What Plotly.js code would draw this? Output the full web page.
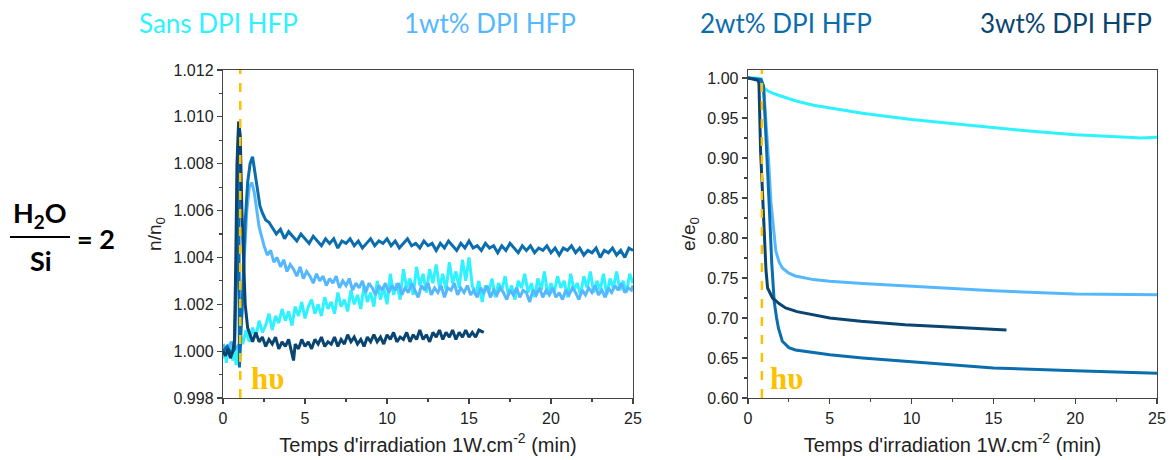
<!DOCTYPE html>
<html>
<head>
<meta charset="utf-8">
<script src="https://cdn.plot.ly/plotly-3.0.1.min.js"></script>
<style>html,body{margin:0;padding:0;background:#fff;}#chart{width:1172px;height:460px;}</style>
</head>
<body>
<div id="chart"></div>
<script>
// ---- series names & colours ----
const seriesNames = ["Sans DPI HFP", "1wt% DPI HFP", "2wt% DPI HFP", "3wt% DPI HFP"];
const seriesColors = ["#2EF2FF", "#55B8FF", "#0A6DAE", "#0A4470"];

// ---- left panel: n/n0 vs time (min), [t, value] ----
const sansN = [[0,0.9997],[0.1,1.0002],[0.2,0.9995],[0.3,1.0003],[0.4,0.9999],[0.5,1.0004],[0.6,0.9996],[0.7,1.0001],[0.8,0.9994],[0.9,1.0002],[1.0,0.9998],[1.1,1.0006],[1.2,1.0003],
[1.4,1.0009],[1.6,1.0004],[1.8,1.0010],[2.0,1.0006],[2.2,1.0013],[2.4,1.0008],[2.6,1.0011],[2.8,1.0016],[3.0,1.0009],[3.2,1.0015],[3.4,1.0012],[3.6,1.0018],[3.8,1.0013],[4.0,1.0017],[4.2,1.0011],[4.4,1.0019],[4.6,1.0015],[4.8,1.0021],[5.0,1.0014],[5.2,1.0019],[5.4,1.0022],[5.6,1.0016],[5.8,1.0020],[6.0,1.0015],[6.2,1.0023],[6.4,1.0018],[6.6,1.0021],[6.8,1.0016],[7.0,1.0025],[7.2,1.0019],[7.4,1.0022],[7.6,1.0017],[7.8,1.0026],[8.0,1.0020],[8.2,1.0024],[8.4,1.0018],[8.6,1.0028],[8.8,1.0021],[9.0,1.0025],[9.2,1.0019],[9.4,1.0030],[9.6,1.0022],[9.8,1.0027],[10.0,1.0020],[10.2,1.0033],[10.4,1.0024],[10.6,1.0029],[10.8,1.0022],[11.0,1.0035],[11.2,1.0027],[11.4,1.0031],[11.6,1.0024],[11.8,1.0036],[12.0,1.0028],[12.2,1.0033],[12.4,1.0025],[12.6,1.0035],[12.8,1.0029],[13.0,1.0037],[13.2,1.0027],[13.4,1.0033],[13.6,1.0026],[13.8,1.0038],[14.0,1.0029],[14.2,1.0034],[14.4,1.0027],[14.6,1.0039],[14.8,1.0030],[15.0,1.0040],[15.2,1.0028],[15.4,1.0024],[15.6,1.0030],[15.8,1.0021],[16.0,1.0028],[16.2,1.0025],[16.4,1.0031],[16.6,1.0023],[16.8,1.0029],[17.0,1.0026],[17.2,1.0032],[17.4,1.0024],[17.6,1.0028],[17.8,1.0022],[18.0,1.0030],[18.2,1.0027],[18.4,1.0033],[18.6,1.0025],[18.8,1.0029],[19.0,1.0023],[19.2,1.0031],[19.4,1.0026],[19.6,1.0034],[19.8,1.0024],[20.0,1.0029],[20.2,1.0025],[20.4,1.0032],[20.6,1.0027],[20.8,1.0030],[21.0,1.0023],[21.2,1.0033],[21.4,1.0026],[21.6,1.0029],[21.8,1.0024],[22.0,1.0032],[22.2,1.0027],[22.4,1.0034],[22.6,1.0025],[22.8,1.0030],[23.0,1.0026],[23.2,1.0033],[23.4,1.0024],[23.6,1.0031],[23.8,1.0027],[24.0,1.0034],[24.2,1.0026],[24.4,1.0030],[24.6,1.0025],[24.8,1.0033],[25.0,1.0029]];
const wt1N = [[0,1.0003],[0.25,1.0000],[0.5,1.0004],[0.75,1.0001],[1,1.0003],[1.15,1.0015],[1.3,1.0040],[1.45,1.0060],[1.6,1.0070],[1.75,1.0072],[1.9,1.0068],[2.05,1.0060],[2.2,1.0053],[2.35,1.0049],
[2.5,1.0045],[2.7,1.0041],[2.9,1.0043],[3.1,1.0038],[3.3,1.0040],[3.5,1.0036],[3.7,1.0039],[3.9,1.0034],[4.1,1.0037],[4.3,1.0035],[4.5,1.0032],[4.7,1.0036],[4.9,1.0031],[5.1,1.0034],[5.3,1.0032],[5.5,1.0029],[5.7,1.0033],[5.9,1.0030],[6.1,1.0032],[6.3,1.0028],[6.5,1.0031],[6.7,1.0029],[6.9,1.0032],[7.1,1.0027],[7.3,1.0030],[7.5,1.0028],[7.7,1.0031],[7.9,1.0026],[8.1,1.0029],[8.3,1.0027],[8.5,1.0030],[8.7,1.0025],[8.9,1.0029],[9.1,1.0027],[9.3,1.0024],[9.5,1.0028],[9.7,1.0026],[9.9,1.0029],[10.1,1.0025],[10.3,1.0028],[10.5,1.0026],[10.7,1.0029],[10.9,1.0024],[11.1,1.0027],[11.3,1.0025],[11.5,1.0029],[11.7,1.0026],[11.9,1.0023],[12.1,1.0028],[12.3,1.0026],[12.5,1.0029],[12.7,1.0024],[12.9,1.0027],[13.1,1.0025],[13.3,1.0028],[13.5,1.0023],[13.7,1.0027],[13.9,1.0026],[14.1,1.0029],[14.3,1.0024],[14.5,1.0027],[14.7,1.0025],[14.9,1.0028],[15.1,1.0024],[15.3,1.0026],[15.5,1.0023],[15.7,1.0027],[15.9,1.0025],[16.1,1.0028],[16.3,1.0023],[16.5,1.0026],[16.7,1.0024],[16.9,1.0027],[17.1,1.0025],[17.3,1.0022],[17.5,1.0026],[17.7,1.0024],[17.9,1.0027],[18.1,1.0023],[18.3,1.0026],[18.5,1.0025],[18.7,1.0021],[18.9,1.0026],[19.1,1.0024],[19.3,1.0027],[19.5,1.0023],[19.7,1.0026],[19.9,1.0024],[20.1,1.0027],[20.3,1.0023],[20.5,1.0025],[20.7,1.0022],[20.9,1.0026],[21.1,1.0024],[21.3,1.0027],[21.5,1.0025],[21.7,1.0022],[21.9,1.0026],[22.1,1.0024],[22.3,1.0027],[22.5,1.0025],[22.7,1.0028],[22.9,1.0024],[23.1,1.0026],[23.3,1.0023],[23.5,1.0027],[23.7,1.0025],[23.9,1.0028],[24.1,1.0026],[24.3,1.0029],[24.5,1.0025],[24.7,1.0027],[24.9,1.0026],[25,1.0028]];
const wt2N = [[0,1.0000],[0.25,1.0002],[0.5,0.9999],[0.7,1.0001],[0.8,1.0030],[0.88,1.0070],[0.95,1.0096],[1.0,0.9993],[1.08,1.0005],[1.2,1.0025],[1.35,1.0055],[1.5,1.0072],[1.65,1.0080],[1.8,1.0083],[1.95,1.0076],[2.1,1.0068],[2.25,1.0062],[2.4,1.0059],[2.6,1.0056],[2.8,1.0055],
[3,1.0053],[3.25,1.0050],[3.5,1.0052],[3.75,1.0048],[4,1.0051],[4.25,1.0049],[4.5,1.0047],[4.75,1.0050],[5,1.0048],[5.25,1.0046],[5.5,1.0049],[5.75,1.0047],[6,1.0045],[6.25,1.0048],[6.5,1.0046],[6.75,1.0048],[7,1.0044],[7.25,1.0047],[7.5,1.0046],[7.75,1.0048],[8,1.0045],[8.25,1.0047],[8.5,1.0044],[8.75,1.0046],[9,1.0048],[9.25,1.0045],[9.5,1.0047],[9.75,1.0046],[10,1.0048],[10.25,1.0045],[10.5,1.0047],[10.75,1.0044],[11,1.0046],[11.25,1.0048],[11.5,1.0045],[11.75,1.0046],[12,1.0044],[12.25,1.0047],[12.5,1.0045],[12.75,1.0046],[13,1.0043],[13.25,1.0046],[13.5,1.0044],[13.75,1.0047],[14,1.0045],[14.25,1.0043],[14.5,1.0046],[14.75,1.0044],[15,1.0047],[15.25,1.0044],[15.5,1.0045],[15.75,1.0043],[16,1.0046],[16.25,1.0044],[16.5,1.0045],[16.75,1.0042],[17,1.0045],[17.25,1.0043],[17.5,1.0046],[17.75,1.0044],[18,1.0042],[18.25,1.0045],[18.5,1.0043],[18.75,1.0045],[19,1.0042],[19.25,1.0044],[19.5,1.0043],[19.75,1.0045],[20,1.0042],[20.25,1.0044],[20.5,1.0041],[20.75,1.0044],[21,1.0043],[21.25,1.0045],[21.5,1.0042],[21.75,1.0044],[22,1.0041],[22.25,1.0043],[22.5,1.0042],[22.75,1.0044],[23,1.0040],[23.25,1.0043],[23.5,1.0042],[23.75,1.0044],[24,1.0041],[24.25,1.0043],[24.5,1.0040],[24.75,1.0044],[25,1.0043]];
const wt3N = [[0,1.0000],[0.15,0.9998],[0.3,1.0001],[0.45,0.9997],[0.6,1.0000],[0.7,1.0005],[0.78,1.0040],[0.85,1.0080],[0.95,1.0098],[1.05,1.0092],[1.15,1.0060],[1.25,1.0035],[1.35,1.0020],[1.5,1.0010],[1.65,1.0007],[1.8,1.0004],
[2,1.0008],[2.2,1.0004],[2.4,1.0006],[2.6,1.0002],[2.8,1.0005],[3,1.0003],[3.2,1.0006],[3.4,1.0001],[3.6,1.0004],[3.8,1.0002],[4,1.0005],[4.2,0.9999],[4.3,0.9996],[4.4,1.0003],[4.6,1.0001],[4.8,1.0005],[5,1.0002],[5.2,1.0004],[5.4,1.0001],[5.6,1.0005],[5.8,1.0003],[6,1.0006],[6.2,1.0002],[6.4,1.0004],[6.6,1.0003],[6.8,1.0006],[7,1.0002],[7.2,1.0005],[7.4,1.0003],[7.6,1.0007],[7.8,1.0004],[8,1.0006],[8.2,1.0003],[8.4,1.0005],[8.6,1.0002],[8.8,1.0006],[9,1.0004],[9.2,1.0007],[9.4,1.0004],[9.6,1.0006],[9.8,1.0003],[10,1.0007],[10.2,1.0005],[10.4,1.0008],[10.6,1.0004],[10.8,1.0006],[11,1.0005],[11.2,1.0008],[11.4,1.0004],[11.6,1.0007],[11.8,1.0005],[12,1.0009],[12.2,1.0005],[12.4,1.0007],[12.6,1.0004],[12.8,1.0008],[13,1.0006],[13.2,1.0009],[13.4,1.0005],[13.6,1.0008],[13.8,1.0006],[14,1.0009],[14.2,1.0005],[14.4,1.0008],[14.6,1.0006],[14.8,1.0009],[15,1.0006],[15.2,1.0008],[15.4,1.0006],[15.6,1.0009],[15.9,1.0008]];

// ---- right panel: e/e0 vs time (min), [t, value] ----
const sansE = [[0,1.000],[0.5,1.000],[0.8,0.999],[0.95,0.988],[1.2,0.984],[1.5,0.981],[2,0.9775],[3,0.971],[4,0.966],[5,0.9625],[6,0.959],[7,0.956],[8.3,0.9525],[10,0.948],[12,0.944],[15,0.9375],[17,0.934],[20,0.929],[22,0.9275],[23.5,0.9255],[24,0.925],[25,0.926]];
const wt1E = [[0,1.000],[0.8,0.998],[0.95,0.990],[1.1,0.950],[1.25,0.900],[1.4,0.846],[1.55,0.810],[1.7,0.784],[1.9,0.770],[2.1,0.7625],[2.5,0.756],[2.9,0.7525],[4,0.748],[5,0.746],[7,0.743],[9.6,0.740],[12,0.7375],[15,0.734],[20,0.730],[25,0.729]];
const wt2E = [[0,1.000],[0.8,0.998],[0.95,0.990],[1.1,0.930],[1.3,0.840],[1.45,0.770],[1.6,0.721],[1.75,0.700],[1.86,0.6875],[2.1,0.671],[2.5,0.663],[2.9,0.660],[4,0.6565],[5,0.654],[7,0.650],[9.6,0.646],[12,0.642],[15,0.6375],[20,0.634],[25,0.631]];
const wt3E = [[0,1.000],[0.6,0.997],[0.67,0.994],[0.72,0.950],[0.77,0.909],[0.88,0.860],[0.98,0.805],[1.1,0.760],[1.2,0.7375],[1.35,0.730],[1.5,0.725],[1.9,0.718],[2.3,0.7125],[3,0.708],[3.9,0.704],[5,0.700],[6.9,0.696],[9.6,0.6917],[12,0.689],[15.8,0.685]];

// irradiation onset marker (min)
const onsetLeft = 1.05;
const onsetRight = 0.85;

const leftSets = [sansN, wt1N, wt2N, wt3N];
const rightSets = [sansE, wt1E, wt2E, wt3E];

const traces = [];
leftSets.forEach((s, i) => traces.push({
  x: s.map(p => p[0]), y: s.map(p => p[1]), type: 'scatter', mode: 'lines',
  xaxis: 'x', yaxis: 'y', name: seriesNames[i], showlegend: false,
  line: {color: seriesColors[i], width: 3}
}));
rightSets.forEach((s, i) => traces.push({
  x: s.map(p => p[0]), y: s.map(p => p[1]), type: 'scatter', mode: 'lines',
  xaxis: 'x2', yaxis: 'y2', name: seriesNames[i], showlegend: false,
  line: {color: seriesColors[i], width: 3}
}));

const FONT = 'Liberation Sans, Arial, sans-serif';
const tickFont = {family: FONT, size: 16, color: '#222'};
const axisCommon = {
  showline: true, mirror: true, linecolor: '#444', linewidth: 1.3,
  ticks: 'outside', ticklen: 5, tickcolor: '#444', tickwidth: 1.2,
  showgrid: false, zeroline: false, tickfont: tickFont
};
const xTitle = {text: "Temps d'irradiation 1W.cm<sup>-2</sup> (min)", font: {family: FONT, size: 20, color: '#222'}, standoff: 12};

// plot area: top 70px, bottom 398px -> paper y = (398 - py)/328
const py = v => (398 - v) / 328;
const px = v => v / 1172;

function label(text, x, y, size, color, family) {
  return {text: text, xref: 'paper', yref: 'paper', x: px(x), y: py(y), xanchor: 'center', yanchor: 'middle',
    showarrow: false, font: {family: family, size: size, color: color}};
}

const layout = {
  width: 1172, height: 460,
  margin: {l: 0, r: 0, t: 70, b: 62},
  paper_bgcolor: '#fff', plot_bgcolor: '#fff',
  showlegend: false,
  xaxis: Object.assign({}, axisCommon, {domain: [0.1903, 0.5401], range: [0, 25], dtick: 5, tick0: 0,
    minor: {dtick: 2.5, ticks: 'outside', ticklen: 3, tickcolor: '#444'}, title: xTitle, anchor: 'y'}),
  yaxis: Object.assign({}, axisCommon, {range: [0.998, 1.012], dtick: 0.002, tick0: 0.998, tickformat: '.3f',
    minor: {dtick: 0.001, ticks: 'outside', ticklen: 3, tickcolor: '#444'},
    title: {text: 'n/n<sub>0</sub>', font: {family: FONT, size: 19, color: '#222'}, standoff: 6}, anchor: 'x'}),
  xaxis2: Object.assign({}, axisCommon, {domain: [0.6382, 0.9872], range: [0, 25], dtick: 5, tick0: 0,
    minor: {dtick: 2.5, ticks: 'outside', ticklen: 3, tickcolor: '#444'}, title: xTitle, anchor: 'y2'}),
  yaxis2: Object.assign({}, axisCommon, {range: [0.6, 1.01], dtick: 0.05, tick0: 0.6, tickformat: '.2f',
    minor: {dtick: 0.025, ticks: 'outside', ticklen: 3, tickcolor: '#444'},
    title: {text: 'e/e<sub>0</sub>', font: {family: FONT, size: 19, color: '#222'}, standoff: 6}, anchor: 'x2'}),
  shapes: [
    {type: 'line', xref: 'x', yref: 'y domain', x0: onsetLeft, x1: onsetLeft, y0: 0, y1: 1,
     line: {color: '#FFC000', width: 2.5, dash: 'dash'}},
    {type: 'line', xref: 'x2', yref: 'y2 domain', x0: onsetRight, x1: onsetRight, y0: 0, y1: 1,
     line: {color: '#FFC000', width: 2.5, dash: 'dash'}},
    {type: 'line', xref: 'paper', yref: 'paper', x0: px(10), x1: px(70), y0: py(237), y1: py(237),
     line: {color: '#000', width: 2}}
  ],
  annotations: [
    label(seriesNames[0], 218, 23, 26, seriesColors[0], 'Lato, sans-serif'),
    label(seriesNames[1], 490, 23, 26, seriesColors[1], 'Lato, sans-serif'),
    label(seriesNames[2], 786, 23, 26, seriesColors[2], 'Lato, sans-serif'),
    label(seriesNames[3], 1066, 23, 26, seriesColors[3], 'Lato, sans-serif'),
    label('<b>H<sub>2</sub>O</b>', 40, 215, 27, '#000', 'Lato, sans-serif'),
    label('<b>Si</b>', 41, 260, 27, '#000', 'Lato, sans-serif'),
    label('<b>= 2</b>', 96, 238, 27, '#000', 'Lato, sans-serif'),
    {text: '<b>hυ</b>', xref: 'x', yref: 'y domain', x: 1.6, y: 0.0, xanchor: 'left', yanchor: 'bottom', showarrow: false,
     font: {family: 'Liberation Serif, serif', size: 31, color: '#FFC000'}},
    {text: '<b>hυ</b>', xref: 'x2', yref: 'y2 domain', x: 1.25, y: 0.0, xanchor: 'left', yanchor: 'bottom', showarrow: false,
     font: {family: 'Liberation Serif, serif', size: 31, color: '#FFC000'}}
  ]
};

Plotly.newPlot('chart', traces, layout, {displayModeBar: false, staticPlot: true});
</script>
</body>
</html>
